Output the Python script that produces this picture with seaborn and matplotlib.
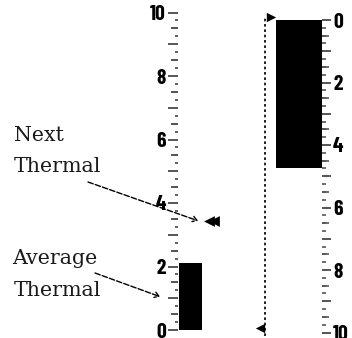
import matplotlib
matplotlib.use("Agg")
import matplotlib.pyplot as plt
import seaborn as sns
import numpy as np
from matplotlib.ticker import MultipleLocator, FixedLocator, FuncFormatter

# ---- data ----
avg_label = ["Average Thermal"]
avg_thermal = [2.1]
next_thermal = 3.44
climb_label = ["Climb"]
climb_value = [4.75]
range_top = 0
range_bottom = 10
left_ticks = [0, 2, 4, 6, 8, 10]
right_ticks = [0, 2, 4, 6, 8, 10]

sns.set_style("white")
tick_font = ["Barlow Condensed", "DejaVu Sans"]

W, H = 352, 338
fig = plt.figure(figsize=(W / 100, H / 100), dpi=100)

def frac_box(x0, x1, ytop, ybot):
    return [x0 / W, (H - ybot) / H, (x1 - x0) / W, (ybot - ytop) / H]

def even_fmt(allowed):
    def f(v, p):
        r = int(round(v))
        if abs(v - r) < 1e-6 and r in allowed:
            return str(r)
        return ""
    return FuncFormatter(f)

def style_labels(ax):
    for lab in ax.get_yticklabels():
        lab.set_family(tick_font)
        lab.set_weight("bold")
        lab.set_color("black")

# ---------- left gauge ----------
axL = fig.add_axes(frac_box(178, 225, 12.5, 330))
sns.barplot(x=avg_label, y=avg_thermal, color="black", width=0.8, ax=axL,
            saturation=1, edgecolor="black", linewidth=0)
pxu = 23 / 0.8
xl0 = -0.4 - 1 / pxu
axL.set_xlim(xl0, xl0 + 47 / pxu)
axL.set_ylim(0, 10)
sns.scatterplot(x=[xl0 + 31 / pxu, xl0 + 35.5 / pxu], y=[next_thermal, next_thermal],
                marker="<", s=60, color="black", edgecolor="black", linewidth=0,
                ax=axL, legend=False, clip_on=False)
axL.set_xticks([])
axL.set_xlabel("")
axL.set_ylabel("")
for s in axL.spines.values():
    s.set_visible(False)
axL.yaxis.set_major_locator(MultipleLocator(1))
axL.yaxis.set_minor_locator(MultipleLocator(0.25))
axL.yaxis.set_major_formatter(even_fmt(left_ticks))
axL.tick_params(axis="y", which="major", left=True, length=7.2, width=1.4, color="#555555",
                pad=1.5, labelsize=15.5)
axL.tick_params(axis="y", which="minor", left=True, length=2.0, width=1.3, color="#555555")
style_labels(axL)
secL = axL.secondary_yaxis("left")
secL.yaxis.set_major_locator(FixedLocator(np.arange(0.5, 10, 1.0)))
secL.yaxis.set_minor_locator(FixedLocator([]))
secL.tick_params(axis="y", which="major", length=4.8, width=1.4, color="#555555", labelleft=False)
for s in secL.spines.values():
    s.set_visible(False)

# ---------- right gauge ----------
axR = fig.add_axes(frac_box(250, 322, 20, 332.5))
sns.barplot(x=climb_label, y=climb_value, color="black", width=0.8, ax=axR,
            saturation=1, edgecolor="black", linewidth=0)
pxr = 46 / 0.8
xr0 = 0.4 - 72 / pxr
axR.set_xlim(xr0, 0.4)
axR.set_ylim(10, 0)
dot_x = xr0 + 15 / pxr
axR.axvline(dot_x, ymin=-0.01, ymax=1.01, color="black", lw=1.2, ls=(0, (1.6, 1.6)), clip_on=False)
sns.scatterplot(x=[xr0 + 21 / pxr], y=[range_top - 0.1], marker=">", s=45, color="black",
                linewidth=0, ax=axR, legend=False, clip_on=False)
sns.scatterplot(x=[xr0 + 10 / pxr], y=[range_bottom - 0.15], marker="<", s=45, color="black",
                linewidth=0, ax=axR, legend=False, clip_on=False)
axR.set_xticks([])
axR.set_xlabel("")
axR.set_ylabel("")
for s in axR.spines.values():
    s.set_visible(False)
axR.yaxis.tick_right()
axR.yaxis.set_major_locator(MultipleLocator(1))
axR.yaxis.set_minor_locator(MultipleLocator(0.25))
axR.yaxis.set_major_formatter(even_fmt(right_ticks))
axR.tick_params(axis="y", which="major", right=True, left=False, length=6.5, width=1.4,
                color="#555555", pad=1.5, labelsize=15.5, labelright=True, labelleft=False)
axR.tick_params(axis="y", which="minor", right=True, left=False, length=2.9, width=1.2, color="#555555")
style_labels(axR)
secR = axR.secondary_yaxis("right")
secR.yaxis.set_major_locator(FixedLocator(np.arange(0.5, 10, 1.0)))
secR.yaxis.set_minor_locator(FixedLocator([]))
secR.tick_params(axis="y", which="major", length=5.0, width=1.2, color="#555555", labelright=False)
for s in secR.spines.values():
    s.set_visible(False)

# ---------- annotations ----------
txt_kw = dict(family="DejaVu Serif", fontsize=14.8, color="#1a1a1a", va="baseline", ha="left")
fig.text(14 / W, (H - 141) / H, "Next", **txt_kw)
fig.text(14 / W, (H - 172) / H, "Thermal", **txt_kw)
fig.text(12 / W, (H - 264) / H, "Average", **txt_kw)
fig.text(14 / W, (H - 296) / H, "Thermal", **txt_kw)

arrow_kw = dict(arrowstyle="->,head_length=0.3,head_width=0.2", linestyle=(0, (4, 1.5)), lw=1.0,
                color="black", shrinkA=0, shrinkB=0)
axL.annotate("", xy=(xl0 + 20 / pxu, next_thermal), xycoords="data",
             xytext=(88 / W, (H - 182) / H), textcoords="figure fraction",
             arrowprops=arrow_kw, annotation_clip=False)
axL.annotate("", xy=(xl0 - 18 / pxu, avg_thermal[0] / 2), xycoords="data",
             xytext=(95 / W, (H - 273) / H), textcoords="figure fraction",
             arrowprops=arrow_kw, annotation_clip=False)

fig.savefig("out.png", dpi=100)
